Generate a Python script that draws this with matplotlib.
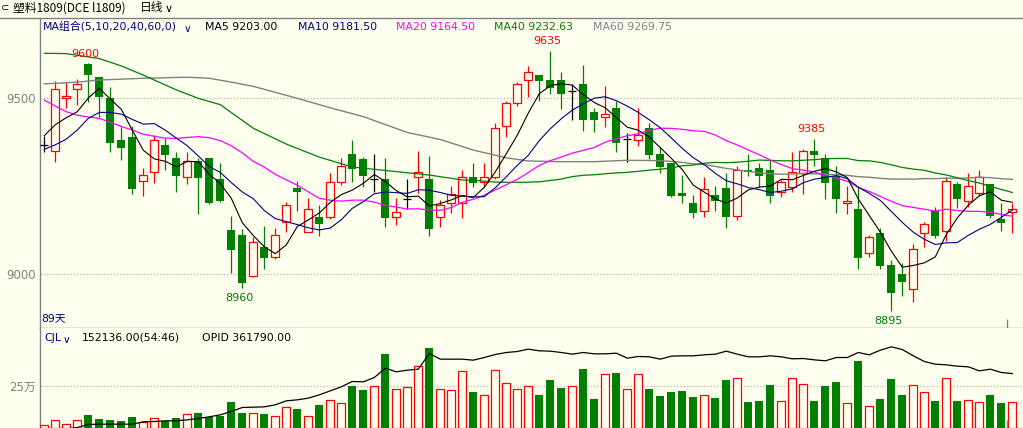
import numpy as np
import matplotlib
matplotlib.use("Agg")
import matplotlib.pyplot as plt
from matplotlib.lines import Line2D

plt.rcParams['font.family'] = ['DejaVu Sans', 'Noto Sans CJK SC']

# ---------------- data ----------------
opens = [9367, 9350, 9500, 9526, 9598, 9560, 9501, 9382, 9390, 9264,
         9290, 9366, 9330, 9276, 9322, 9330, 9271, 9125, 9112, 8995,
         9077, 9050, 9150, 9245, 9121, 9163, 9162, 9261, 9342, 9328,
         9270, 9271, 9162, 9213, 9276, 9271, 9162, 9202, 9204, 9276,
         9262, 9276, 9420, 9486, 9551, 9566, 9552, 9552, 9521, 9541,
         9461, 9448, 9472, 9385, 9381, 9416, 9342, 9315, 9232, 9204,
         9181, 9225, 9245, 9166, 9296, 9302, 9296, 9235, 9249, 9287,
         9350, 9330, 9279, 9202, 9186, 9060, 9118, 9027, 9001, 8957,
         9116, 9181, 9124, 9257, 9209, 9230, 9257, 9157, 9176]
highs = [9394, 9550, 9545, 9554, 9600, 9562, 9533, 9418, 9420, 9302,
         9396, 9386, 9348, 9348, 9330, 9331, 9315, 9166, 9128, 9105,
         9137, 9133, 9205, 9266, 9217, 9197, 9287, 9331, 9382, 9332,
         9341, 9330, 9217, 9271, 9350, 9336, 9211, 9251, 9296, 9315,
         9315, 9429, 9493, 9545, 9592, 9566, 9635, 9574, 9540, 9595,
         9472, 9536, 9491, 9401, 9472, 9429, 9361, 9315, 9282, 9225,
         9277, 9251, 9287, 9308, 9341, 9317, 9325, 9268, 9348, 9357,
         9385, 9341, 9308, 9251, 9249, 9112, 9131, 9041, 9031, 9086,
         9148, 9192, 9277, 9263, 9289, 9296, 9257, 9202, 9202]
lows = [9347, 9320, 9473, 9481, 9490, 9446, 9348, 9325, 9229, 9223,
        9259, 9295, 9235, 9256, 9170, 9201, 9205, 9005, 8960, 8991,
        9015, 9044, 9119, 9181, 9119, 9110, 9156, 9255, 9261, 9249,
        9235, 9135, 9140, 9185, 9230, 9110, 9135, 9175, 9161, 9249,
        9249, 9270, 9389, 9479, 9505, 9491, 9511, 9471, 9438, 9408,
        9405, 9418, 9348, 9320, 9365, 9328, 9289, 9221, 9202, 9161,
        9164, 9181, 9131, 9154, 9280, 9249, 9204, 9221, 9235, 9228,
        9308, 9215, 9175, 9170, 9016, 9050, 9016, 8895, 8937, 8920,
        9079, 9104, 9096, 9189, 9192, 9223, 9161, 9124, 9116]
closes = [9367, 9526, 9506, 9540, 9565, 9505, 9374, 9360, 9243, 9281,
          9382, 9340, 9280, 9322, 9275, 9204, 9209, 9070, 8976, 9091,
          9045, 9111, 9196, 9235, 9185, 9144, 9261, 9307, 9300, 9280,
          9270, 9161, 9177, 9213, 9290, 9130, 9196, 9228, 9276, 9260,
          9276, 9415, 9486, 9540, 9574, 9550, 9530, 9513, 9521, 9438,
          9438, 9455, 9374, 9385, 9395, 9340, 9305, 9223, 9223, 9175,
          9241, 9209, 9164, 9296, 9290, 9280, 9223, 9261, 9290, 9350,
          9340, 9260, 9215, 9209, 9045, 9105, 9025, 8946, 8979, 9071,
          9142, 9110, 9264, 9215, 9251, 9276, 9166, 9145, 9185]
volumes = [14000, 46000, 20000, 46000, 77000, 52000, 46000, 40000, 65000, 32000,
           56000, 38000, 58000, 81000, 89000, 65000, 71000, 155000, 89000, 87000,
           83000, 69000, 123000, 113000, 69000, 137000, 165000, 147000, 252000, 228000,
           250000, 446000, 232000, 244000, 371000, 482000, 232000, 226000, 341000, 216000,
           196000, 347000, 270000, 232000, 250000, 198000, 288000, 240000, 250000, 355000,
           173000, 325000, 331000, 232000, 325000, 234000, 192000, 216000, 222000, 185000,
           196000, 179000, 288000, 298000, 155000, 161000, 258000, 161000, 298000, 264000,
           161000, 252000, 276000, 149000, 403000, 131000, 173000, 294000, 198000, 258000,
           216000, 161000, 298000, 161000, 165000, 155000, 198000, 149000, 152136]
opid = [190000, 192000, 196000, 200000, 209000, 210000, 210000, 210000, 210000, 217000,
        218000, 220000, 220000, 223000, 227000, 232000, 238000, 248000, 260000, 261000,
        262000, 268000, 280000, 283000, 288000, 298000, 310000, 322000, 338000, 337000,
        350000, 378000, 367000, 372000, 375000, 422000, 405000, 405000, 405000, 402000,
        410000, 419000, 425000, 428000, 435000, 430000, 429000, 425000, 420000, 425000,
        421000, 421000, 423000, 408000, 413000, 412000, 405000, 414000, 415000, 415000,
        418000, 420000, 429000, 420000, 412000, 412000, 415000, 412000, 406000, 407000,
        403000, 400000, 410000, 410000, 425000, 418000, 432000, 442000, 434000, 415000,
        398000, 390000, 388000, 384000, 382000, 370000, 375000, 365000, 361790]

ma5_head = [9394, 9425, 9445, 9462]
ma10_head = [9355, 9368, 9384, 9410, 9443, 9460, 9460, 9455, 9440]
ma20_head = [9495, 9478, 9462, 9452, 9447, 9443, 9432, 9420, 9410, 9398,
             9392, 9387, 9386, 9389, 9391, 9388, 9380, 9365, 9345]
ma40_head_idx = [0, 2, 5, 7, 9, 12, 14, 16, 19, 22, 25, 28, 31, 35, 38]
ma40_head = [9628, 9627, 9613, 9592, 9566, 9524, 9500, 9482, 9415, 9370,
             9333, 9305, 9295, 9282, 9268]
ma60_head_idx = [0, 3, 5, 9, 13, 15, 17, 19, 23, 26, 29, 33, 36, 39, 42,
                 44, 47, 50, 53, 56, 58]
ma60_head = [9541, 9546, 9552, 9557, 9560, 9557, 9546, 9534, 9500, 9473,
             9448, 9403, 9383, 9353, 9331, 9322, 9320, 9320, 9324, 9323, 9318]

extremes = [(4, 9600, 'high'), (46, 9635, 'high'), (70, 9385, 'high'),
            (18, 8960, 'low'), (77, 8895, 'low')]

# ---------------- styling ----------------
BG = '#fffff0'
RED = '#ff0000'
GREEN = '#007f00'
NAVY = '#000080'
MAG = '#ff00ff'
GRAY = '#808080'
FRAME = '#808080'

W, H = 1023, 428
def fx(px):
    return px / W
def fy(py):
    return 1 - py / H

o = np.array(opens, float); h = np.array(highs, float)
l = np.array(lows, float); c = np.array(closes, float)
v = np.array(volumes, float)
idx = np.arange(len(c))
up = c > o
dn = c < o
dj = c == o

def rolling(vals, n):
    return np.convolve(vals, np.ones(n) / n, mode='valid')

fig = plt.figure(figsize=(W / 100, H / 100), dpi=100, facecolor=BG)

ax = fig.add_axes([fx(40), fy(328), fx(1023) - fx(40), fy(18) - fy(328)])
axv = fig.add_axes([fx(40), fy(427.5), fx(1023) - fx(40), fy(328) - fy(427.5)])
for a in (ax, axv):
    a.set_facecolor(BG)
    a.set_xlim(-0.39, 88.97)
    for s in ('top', 'right'):
        a.spines[s].set_visible(False)
    a.spines['left'].set_color(FRAME)
    a.spines['bottom'].set_color(FRAME)
    a.spines['left'].set_linewidth(1.0)
    a.spines['bottom'].set_linewidth(1.0)
    a.set_xticks([])
    a.tick_params(axis='y', length=0, pad=3, colors=GRAY, labelsize=8.5)

ax.set_ylim(8847.5, 9728.2)
ax.set_yticks([9000, 9500])
ax.set_yticklabels(['9000', '9500'])
for yv in (9000, 9500):
    ax.axhline(yv, color='#a8a8a8', lw=0.8, ls=(0, (1, 2)), zorder=0)

BW = 0.74
# up candles: hollow red
ax.vlines(idx[up], l[up], h[up], color=RED, lw=0.9, zorder=2)
ax.bar(idx[up], c[up] - o[up], bottom=o[up], width=BW, facecolor=BG,
       edgecolor=RED, linewidth=0.9, zorder=3)
# down candles: filled green
ax.vlines(idx[dn], l[dn], h[dn], color=GREEN, lw=0.9, zorder=2)
ax.bar(idx[dn], o[dn] - c[dn], bottom=c[dn], width=BW, color=GREEN,
       linewidth=0, zorder=3)
# doji: black cross
ax.vlines(idx[dj], l[dj], h[dj], color='black', lw=0.9, zorder=3)
ax.hlines(c[dj], idx[dj] - BW / 2, idx[dj] + BW / 2, color='black', lw=0.9, zorder=3)

# moving averages
ma5 = np.concatenate([ma5_head, rolling(c, 5)])
ma10 = np.concatenate([ma10_head, rolling(c, 10)])
ma20 = np.concatenate([ma20_head, rolling(c, 20)])
ma40_x = np.concatenate([ma40_head_idx, np.arange(39, len(c))])
ma40 = np.concatenate([ma40_head, rolling(c, 40)])
ma60_x = np.concatenate([ma60_head_idx, np.arange(59, len(c))])
ma60 = np.concatenate([ma60_head, rolling(c, 60)])

ax.plot(ma60_x, ma60, color=GRAY, lw=1.0, zorder=4)
ax.plot(ma40_x, ma40, color=GREEN, lw=0.9, zorder=4)
ax.plot(idx, ma20, color=MAG, lw=0.9, zorder=4)
ax.plot(idx, ma10, color=NAVY, lw=0.8, zorder=4)
ax.plot(idx, ma5, color='black', lw=0.8, zorder=5)

for i, val, kind in extremes:
    if kind == 'high':
        ax.annotate(str(val), (i, val), xytext=(-2.3, 6.8), textcoords='offset points',
                    ha='center', va='center', color=RED, fontsize=8, zorder=6)
    else:
        ax.annotate(str(val), (i, val), xytext=(-2.3, -6.8), textcoords='offset points',
                    ha='center', va='center', color=GREEN, fontsize=8, zorder=6)

# cursor tick at the right
ax.vlines(87.5, 0, 0.03, transform=ax.get_xaxis_transform(), color=GRAY, lw=1.0)

# ---------------- volume panel ----------------
axv.set_ylim(0, 600800)
axv.set_yticks([250000])
axv.set_yticklabels(['25万'])
axv.axhline(250000, color='#a8a8a8', lw=0.8, ls=(0, (1, 2)), zorder=0)
vup = c >= o
axv.bar(idx[vup], v[vup], width=BW, facecolor=BG, edgecolor=RED, linewidth=0.9, zorder=3)
axv.bar(idx[~vup], v[~vup], width=BW, color=GREEN, linewidth=0, zorder=3)
axv.vlines(87.5, 0, 0.08, transform=axv.get_xaxis_transform(), color=GRAY, lw=1.0, zorder=4)

axo = axv.twinx()
axo.set_ylim(200000, 498500)
axo.plot(idx, opid, color='black', lw=0.9, zorder=5)
axo.set_yticks([])
for s in axo.spines.values():
    s.set_visible(False)

# ---------------- frame lines & texts ----------------
fig.add_artist(Line2D([0, 1], [fy(17.5), fy(17.5)], transform=fig.transFigure,
                      color=FRAME, lw=1.0))

fs = 7.8
fig.text(fx(13), fy(8), '塑料1809(DCE l1809)', va='center', ha='left',
         fontsize=8.5, color='black', family=['Noto Sans CJK SC', 'DejaVu Sans'])
fig.text(fx(140), fy(8), '日线', va='center', ha='left', fontsize=8.5,
         color='black', family=['Noto Sans CJK SC', 'DejaVu Sans'])
fig.text(fx(165), fy(8.5), '∨', va='center', ha='left', fontsize=8, color='black')
fig.text(fx(1), fy(8), '⊂', va='center', ha='left', fontsize=7, color='black')

fig.text(fx(43), fy(27), 'MA组合(5,10,20,40,60,0)', va='center', ha='left',
         fontsize=fs, color=NAVY)
fig.text(fx(184), fy(29), '∨', va='center', ha='left', fontsize=7.5, color=NAVY)
legend_items = [(205, 'MA5 9203.00', 'black'), (298, 'MA10 9181.50', NAVY),
                (396, 'MA20 9164.50', MAG), (494, 'MA40 9232.63', GREEN),
                (593, 'MA60 9269.75', GRAY)]
for px, txt, col in legend_items:
    fig.text(fx(px), fy(27), txt, va='center', ha='left', fontsize=fs, color=col)

fig.text(fx(41), fy(318), '89天', va='center', ha='left', fontsize=fs, color=NAVY)
fig.text(fx(44), fy(338), 'CJL', va='center', ha='left', fontsize=fs, color=NAVY)
fig.text(fx(63), fy(340), '∨', va='center', ha='left', fontsize=7.5, color=NAVY)
fig.text(fx(82), fy(338), '152136.00(54:46)', va='center', ha='left', fontsize=fs, color='black')
fig.text(fx(202), fy(338), 'OPID 361790.00', va='center', ha='left', fontsize=fs, color='black')

fig.savefig('out.png', dpi=100, facecolor=BG)
